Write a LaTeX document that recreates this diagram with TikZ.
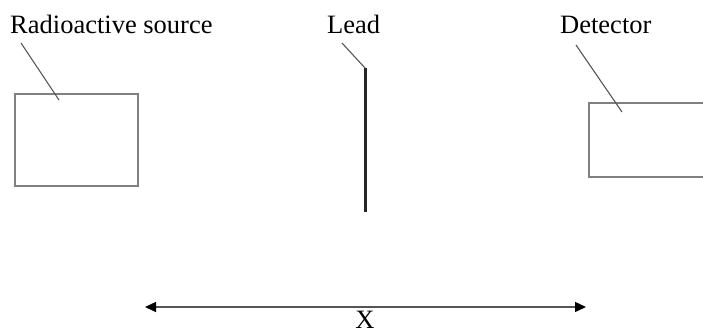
\documentclass[tikz,border=0pt]{standalone}
\usepackage{fontspec}
\setmainfont{Liberation Serif}
\usetikzlibrary{arrows.meta}
\definecolor{boxgray}{HTML}{808080}
\definecolor{leadergray}{HTML}{555555}
\begin{document}
\begin{tikzpicture}[x=1pt,y=-1pt,
  lbl/.style={anchor=base west,inner sep=0pt,font=\fontsize{26.5}{30}\selectfont},
  boxstyle/.style={draw=boxgray,line width=1.5pt,inner sep=0pt,outer sep=0pt},
  leader/.style={draw=leadergray,line width=1.1pt},
  dimline/.style={draw=leadergray,line width=1.4pt,{Triangle[length=11pt,width=10pt,color=black]}-{Triangle[length=11pt,width=10pt,color=black]}}]
\useasboundingbox (0,0) rectangle (703,333);
% labels
\node[lbl] (tsrc) at (10,33) {Radioactive source};
\node[lbl] (tlead) at (327,33) {Lead};
\node[lbl] (tdet) at (560,33) {Detector};
% boxes
\node[boxstyle,minimum width=123pt,minimum height=92pt] (src) at (76.5,140) {};
\node[boxstyle,minimum width=118pt,minimum height=74pt] (det) at (648,140) {};
% lead sheet
\coordinate (leadtop) at (365,68);
\coordinate (leadbot) at (365,212);
\draw[line width=3pt,color=black!85] (leadtop) -- (leadbot);
% leader lines
\coordinate (l1a) at (21,43);
\coordinate (l1b) at (59,100);
\coordinate (l2a) at (342,43);
\coordinate (l3a) at (576,45);
\coordinate (l3b) at (622,112);
\draw[leader] (l1a) -- (l1b);
\draw[leader] (l2a) -- (leadtop);
\draw[leader] (l3a) -- (l3b);
% dimension
\coordinate (dl) at (145,307);
\coordinate (dr) at (586,307);
\draw[dimline] (dl) -- (dr);
\node[lbl,anchor=base] (tx) at (365,328.5) {X};
\end{tikzpicture}
\end{document}
